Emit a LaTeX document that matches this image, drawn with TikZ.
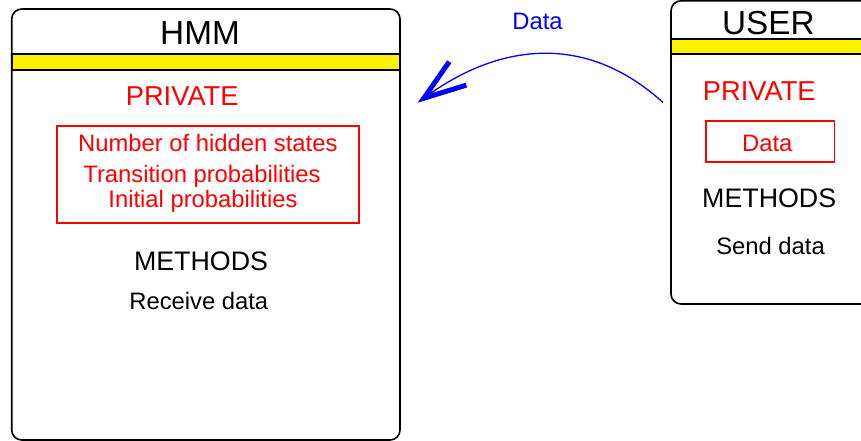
\documentclass[tikz,border=0pt]{standalone}
\usepackage{fontspec}
\setmainfont{Liberation Sans}
\usetikzlibrary{arrows.meta}
\begin{document}
\begin{tikzpicture}[x=1pt,y=-1pt,
  classbox/.style={draw=black, line width=1.6pt, rounded corners=10pt, fill=white, inner sep=0pt, outer sep=0pt, anchor=north west},
  band/.style={draw=black, line width=1.6pt, fill=yellow, inner sep=0pt, outer sep=0pt, anchor=north west},
  privbox/.style={draw=red, line width=1.2pt, inner sep=0pt, outer sep=0pt, anchor=north west},
  titletext/.style={font=\fontsize{33.3}{33.3}\selectfont, text=black, inner sep=0pt, anchor=base},
  sectext/.style={font=\fontsize{27.3}{27.3}\selectfont, inner sep=0pt, anchor=base},
  methtext/.style={font=\fontsize{26.8}{26.8}\selectfont, inner sep=0pt, anchor=base},
  itemtext/.style={font=\fontsize{23.8}{23.8}\selectfont, inner sep=0pt, anchor=base},
  flow/.style={draw=blue, line width=1.3pt, -{Straight Barb[length=42pt, width=29pt, line width=5pt]}},
]
\useasboundingbox (0,0) rectangle (861,441);

% HMM class
\node[classbox, minimum width=388.3pt, minimum height=431pt] (hmm) at (11.7,9) {};
\node[band, minimum width=388.3pt, minimum height=15.7pt] (hmmband) at (11.7,54.3) {};
\node[titletext] (hmmtitle) at (200,45) {HMM};
\node[sectext, text=red] (hmmpriv) at (182.2,106) {PRIVATE};
\node[privbox, minimum width=302pt, minimum height=97pt] (hmmprivbox) at (57,126) {};
\node[itemtext, text=red] (hmmstates) at (207.8,151.7) {Number of hidden states};
\node[itemtext, text=red] (hmmtrans) at (202,182.7) {Transition probabilities};
\node[itemtext, text=red] (hmminit) at (203,207.3) {Initial probabilities};
\node[methtext] (hmmmeth) at (201,270.7) {METHODS};
\node[itemtext] (hmmrecv) at (198.8,309.3) {Receive data};

% USER class
\node[classbox, minimum width=330pt, minimum height=303.2pt] (user) at (671,0.8) {};
\node[band, minimum width=330pt, minimum height=15pt] (userband) at (671,39.3) {};
\node[titletext] (usertitle) at (768.4,35) {USER};
\node[sectext, text=red] (userpriv) at (759.3,101) {PRIVATE};
\node[privbox, minimum width=128.7pt, minimum height=41pt] (userprivbox) at (706,121) {};
\node[itemtext, text=red] (userdata) at (767.3,151.7) {Data};
\node[methtext] (usermeth) at (769.2,207.3) {METHODS};
\node[itemtext] (usersend) at (770.5,254) {Send data};

% data flow
\coordinate (src) at (663,102.5);
\coordinate (dst) at (417.7,102.7);
\draw[flow] (src) .. controls (583.6,30.5) and (496.4,45.2) .. (dst);
\node[itemtext, text=blue] (flowlabel) at (537.5,29.3) {Data};
\end{tikzpicture}
\end{document}
